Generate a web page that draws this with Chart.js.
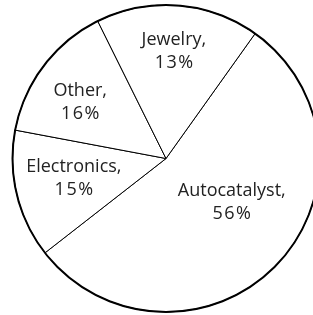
<!DOCTYPE html>
<html>
<head>
<meta charset="utf-8">
<script src="https://cdn.jsdelivr.net/npm/chart.js@4/dist/chart.umd.min.js"></script>
<style>
html,body{margin:0;padding:0;background:#fff;overflow:hidden;}
#wrap{width:332px;height:316px;}
</style>
</head>
<body>
<div id="wrap"><canvas id="c" width="332" height="316"></canvas></div>
<script>
// Data
const categories = ["Autocatalyst", "Electronics", "Other", "Jewelry"];
const sliceValues = [54.6, 13.5, 14.7, 17.2];       // slice sizes as drawn
const percentLabels = ["56%", "15%", "16%", "13%"]; // printed labels

// Label placement: polar offsets from pie centre (degrees clockwise from top, fraction of radius)
const labelPlacement = [
  {angle: 123.7, r: 0.515},
  {angle: 258.4, r: 0.613},
  {angle: 303.5, r: 0.670},
  {angle: 4.2,   r: 0.703}
];

const labelPlugin = {
  id: 'sliceLabels',
  afterDatasetsDraw(chart) {
    const meta = chart.getDatasetMeta(0);
    const ctx = chart.ctx;
    const first = meta.data[0];
    if (!first) return;
    const cx = first.x, cy = first.y, R = first.outerRadius;
    // outer rim
    ctx.save();
    ctx.beginPath();
    ctx.arc(cx, cy, R, 0, Math.PI * 2);
    ctx.lineWidth = 2;
    ctx.strokeStyle = '#000';
    ctx.stroke();
    ctx.font = '18px "Open Sans"';
    ctx.fillStyle = '#222';
    ctx.textAlign = 'center';
    ctx.textBaseline = 'middle';
    meta.data.forEach((arc, i) => {
      const p = labelPlacement[i];
      const a = p.angle * Math.PI / 180;
      const x = cx + Math.sin(a) * p.r * R;
      const y = cy - Math.cos(a) * p.r * R;
      ctx.letterSpacing = '0px';
      ctx.fillText(categories[i] + ',', x, y - 11);
      ctx.letterSpacing = '1.5px';
      ctx.fillText(percentLabels[i], x + 0.75, y + 12);
    });
    ctx.restore();
  }
};

new Chart(document.getElementById('c'), {
  type: 'pie',
  data: {
    labels: categories,
    datasets: [{
      data: sliceValues,
      backgroundColor: '#ffffff',
      borderColor: '#000000',
      borderWidth: 1,
      borderAlign: 'center'
    }]
  },
  options: {
    responsive: false,
    animation: false,
    devicePixelRatio: 1,
    rotation: 35.5,
    layout: {padding: {left: 12, right: 12, top: 4, bottom: 3}},
    plugins: {legend: {display: false}, tooltip: {enabled: false}}
  },
  plugins: [labelPlugin]
});
</script>
</body>
</html>
